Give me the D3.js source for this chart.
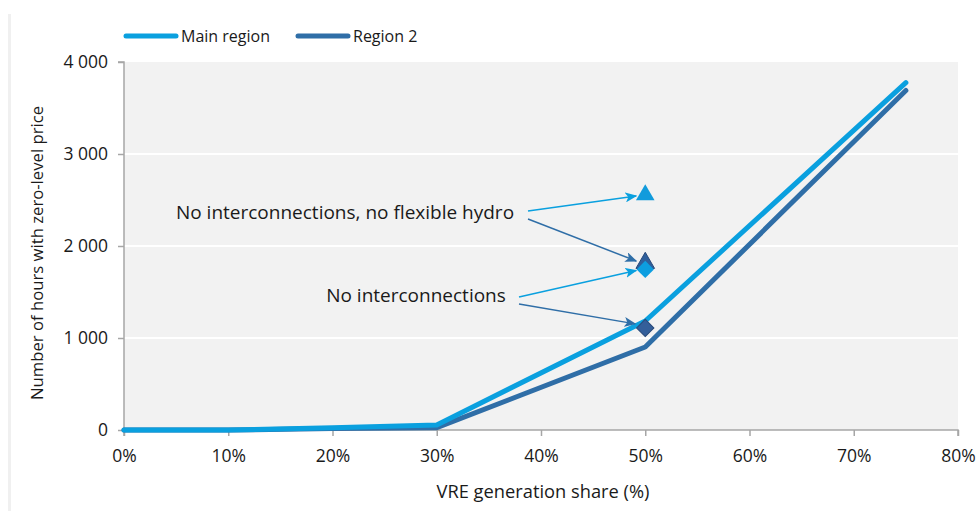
<!DOCTYPE html>
<html><head><meta charset="utf-8">
<script src="https://cdn.jsdelivr.net/npm/d3@7"></script>
<style>body{margin:0;background:#fff;}svg text{font-family:"Open Sans","Noto Sans",sans-serif;fill:#1a1a1a;}</style>
</head><body>
<svg id="c" width="978" height="511"></svg>
<script>
const shares = [0, 10, 20, 30, 50, 75];
const mainRegion = [0, 0, 25, 55, 1185, 3775];
const region2 = [0, 0, 15, 25, 902, 3690];
const xTicks = [0, 10, 20, 30, 40, 50, 60, 70, 80];
const yTicks = [0, 1000, 2000, 3000, 4000];
// sensitivity markers at 50%
const sensShare = 50;
const noIntNoHydro = {main: 2555, r2: 1815};
const noInt = {main: 1745, r2: 1110};
const colMain = "#0aa0df", colR2 = "#2f6ea7";

const svg = d3.select("#c");
const m = {l:124, r:958, t:62, b:430};
const x = d3.scaleLinear().domain([0,80]).range([m.l, m.r]);
const y = d3.scaleLinear().domain([0,4000]).range([m.b, m.t]);

// faint left border
svg.append("rect").attr("x",8).attr("y",14).attr("width",3).attr("height",497).attr("fill","#f0f0f0");

svg.append("rect").attr("x",m.l).attr("y",m.t).attr("width",m.r-m.l).attr("height",m.b-m.t).attr("fill","#f2f2f2");
svg.selectAll(".grid").data(yTicks.slice(1,4)).join("line")
  .attr("x1",m.l).attr("x2",m.r).attr("y1",d=>y(d)).attr("y2",d=>y(d))
  .attr("stroke","#fff").attr("stroke-width",2);

const fmtY = d => d===0 ? "0" : (d/1000) + " 000";
const yAxis = svg.append("g").attr("transform",`translate(${m.l},0)`)
  .call(d3.axisLeft(y).tickValues(yTicks).tickFormat(fmtY).tickSize(6).tickPadding(10));
const xAxis = svg.append("g").attr("transform",`translate(0,${m.b})`)
  .call(d3.axisBottom(x).tickValues(xTicks).tickFormat(d=>d+"%").tickSize(6).tickPadding(14));
[yAxis,xAxis].forEach(g=>{
  g.selectAll("path,line").attr("stroke","#a6a6a6").attr("stroke-width",1.5);
  g.selectAll("text").attr("font-size",17.5).attr("fill","#1a1a1a")
   .attr("font-family",'"Open Sans","Noto Sans",sans-serif');
});
yAxis.select(".domain").attr("d",`M-6,${m.t}H0V${m.b}`);
xAxis.select(".domain").attr("d",`M${m.l},6V0H${m.r}V6`);

const line = d3.line().x((d,i)=>x(shares[i])).y(d=>y(d));
svg.append("path").datum(region2).attr("d",line).attr("fill","none").attr("stroke",colR2).attr("stroke-width",5).attr("stroke-linecap","round").attr("stroke-linejoin","round");
svg.append("path").datum(mainRegion).attr("d",line).attr("fill","none").attr("stroke",colMain).attr("stroke-width",5).attr("stroke-linecap","round").attr("stroke-linejoin","round");

// markers
const tri = d3.symbol().type(d3.symbolTriangle).size(150);
const dia = d3.symbol().type(d3.symbolSquare).size(150);
svg.append("path").attr("d",tri).attr("transform",`translate(${x(sensShare)},${y(noIntNoHydro.main)})`).attr("fill","#119bdc");
svg.append("path").attr("d",tri).attr("transform",`translate(${x(sensShare)},${y(noIntNoHydro.r2)})`).attr("fill","#2f5f9c").attr("stroke","#27497a").attr("stroke-width",1);
svg.append("path").attr("d",dia).attr("transform",`translate(${x(sensShare)},${y(noInt.main)}) rotate(45)`).attr("fill","#0d9ee0");
svg.append("path").attr("d",dia).attr("transform",`translate(${x(sensShare)},${y(noInt.r2)}) rotate(45)`).attr("fill","#345f9a").attr("stroke","#2a4a7a").attr("stroke-width",1);

// arrow markers
const defs = svg.append("defs");
[["aMain",colMain],["aR2",colR2]].forEach(([id,c])=>{
  defs.append("marker").attr("id",id).attr("viewBox","0 0 12 10").attr("refX",11).attr("refY",5)
    .attr("markerWidth",12).attr("markerHeight",10).attr("markerUnits","userSpaceOnUse").attr("orient","auto")
    .append("path").attr("d","M0,0L12,5L0,10L3,5Z").attr("fill",c);
});
function arrow(x1,y1,x2,y2,id,c){
  svg.append("line").attr("x1",x1).attr("y1",y1).attr("x2",x2).attr("y2",y2)
    .attr("stroke",c).attr("stroke-width",1.5).attr("marker-end",`url(#${id})`);
}
const ax = x(sensShare);
arrow(528,211, ax-9, y(noIntNoHydro.main)+1, "aMain", colMain);
arrow(528,219, ax-9, y(noIntNoHydro.r2)-2, "aR2", colR2);
arrow(519,297, ax-9, y(noInt.main)+1, "aMain", colMain);
arrow(519,304, ax-10, y(noInt.r2)-4, "aR2", colR2);

svg.append("text").attr("x",345).attr("y",219).attr("text-anchor","middle").attr("font-size",19).text("No interconnections, no flexible hydro");
svg.append("text").attr("x",416).attr("y",302).attr("text-anchor","middle").attr("font-size",19).text("No interconnections");

// axis titles
svg.append("text").attr("transform","translate(43,253) rotate(-90)").attr("text-anchor","middle").attr("font-size",16.7).text("Number of hours with zero-level price");
svg.append("text").attr("x",543).attr("y",498).attr("text-anchor","middle").attr("font-size",18.3).text("VRE generation share (%)");

// legend
const leg = [["Main region",colMain,126],["Region 2",colR2,298]];
leg.forEach(([t,c,lx])=>{
  svg.append("line").attr("x1",lx).attr("x2",lx+50).attr("y1",36).attr("y2",36).attr("stroke",c).attr("stroke-width",5).attr("stroke-linecap","round");
  svg.append("text").attr("x",lx+55).attr("y",42).attr("font-size",16).text(t);
});
</script>
</body></html>
